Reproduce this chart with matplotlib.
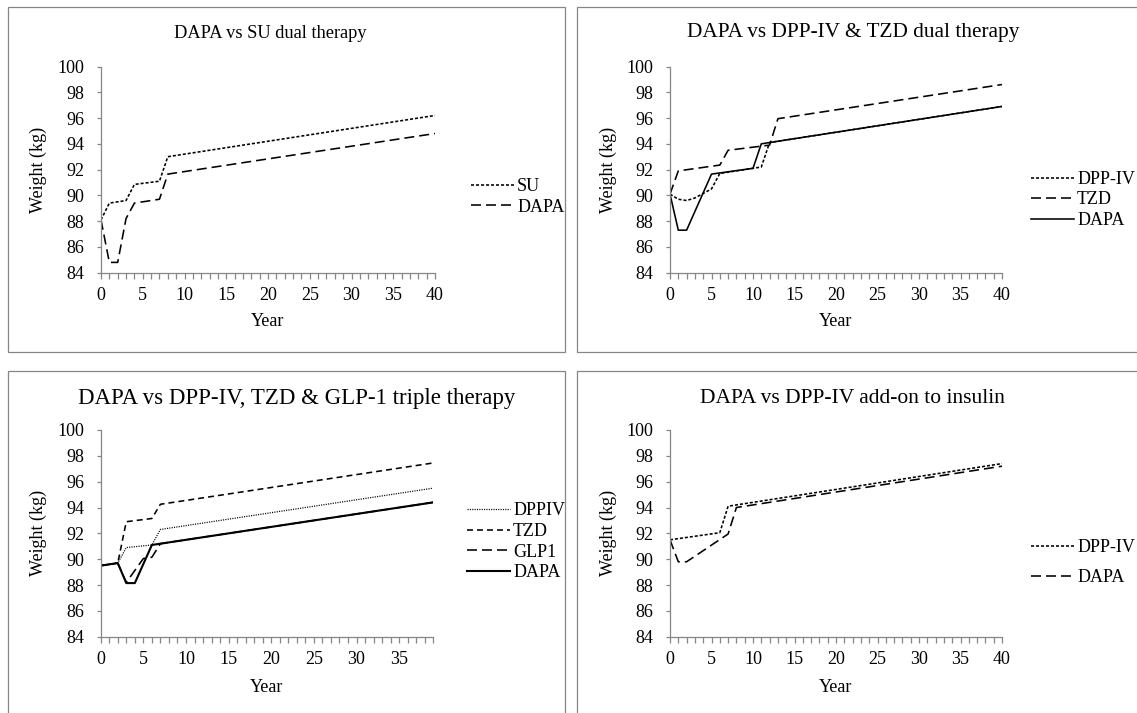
import matplotlib
matplotlib.use("Agg")
import matplotlib.pyplot as plt
from matplotlib.patches import Rectangle
from matplotlib.transforms import Bbox, TransformedBbox

plt.rcParams['font.family'] = ['Liberation Serif', 'DejaVu Serif']
plt.rcParams['lines.scale_dashes'] = False

W, H = 1137, 713

# ---------------- data ----------------
# Panel 1: DAPA vs SU dual therapy
p1_su_x = [0, 1, 3, 4, 7, 8, 40]
p1_su_y = [88.1, 89.4, 89.6, 90.85, 91.1, 93.0, 96.2]
p1_dapa_x = [0, 1, 2, 3, 4, 7, 8, 40]
p1_dapa_y = [88.1, 84.8, 84.8, 88.2, 89.4, 89.7, 91.65, 94.8]

# Panel 2: DAPA vs DPP-IV & TZD dual therapy
p2_dpp_x = [0, 1, 2, 3, 4, 5, 6, 10, 11, 12, 40]
p2_dpp_y = [90.1, 89.7, 89.6, 89.8, 90.15, 90.5, 91.7, 92.1, 92.2, 94.1, 96.9]
p2_tzd_x = [0, 1, 6, 7, 12, 13, 40]
p2_tzd_y = [90.1, 91.9, 92.35, 93.5, 93.9, 95.95, 98.6]
p2_dapa_x = [0, 1, 2, 5, 10, 11, 40]
p2_dapa_y = [90.1, 87.3, 87.3, 91.65, 92.1, 94.0, 96.9]

# Panel 3: DAPA vs DPP-IV, TZD & GLP-1 triple therapy
p3_dppiv_x = [0, 2, 3, 6, 7, 39]
p3_dppiv_y = [89.5, 89.7, 90.9, 91.1, 92.3, 95.5]
p3_tzd_x = [0, 2, 3, 6, 7, 39]
p3_tzd_y = [89.5, 89.7, 92.9, 93.15, 94.25, 97.45]
p3_glp1_x = [0, 2, 3, 5, 6, 7, 39]
p3_glp1_y = [89.5, 89.7, 88.2, 90.05, 90.15, 91.2, 94.4]
p3_dapa_x = [0, 2, 3, 4, 6, 39]
p3_dapa_y = [89.5, 89.7, 88.15, 88.15, 91.1, 94.4]

# Panel 4: DAPA vs DPP-IV add-on to insulin
p4_dpp_x = [0, 6, 7, 40]
p4_dpp_y = [91.5, 92.05, 94.1, 97.4]
p4_dapa_x = [0, 1, 2, 7, 8, 40]
p4_dapa_y = [91.5, 89.8, 89.8, 91.95, 94.0, 97.2]

titles = ["DAPA vs SU dual therapy",
          "DAPA vs DPP-IV & TZD dual therapy",
          "DAPA vs DPP-IV, TZD & GLP-1 triple therapy",
          "DAPA vs DPP-IV add-on to insulin"]
y_ticks = [84, 86, 88, 90, 92, 94, 96, 98, 100]

# ---------------- styles ----------------
SHORTDOT = (0, (2.2, 1.4))
LONGDASH = (0, (7.2, 3.6))
MEDDASH = (0, (4.3, 2.9))
FINEDOT = (0, (0.8, 0.9))
GRAY = '#868686'
FS = 13

fig = plt.figure(figsize=(W / 100, H / 100), dpi=100)


def px_rect(l, t, r, b):
    return [l / W, 1 - b / H, (r - l) / W, (b - t) / H]


def panel_box(l, t, r, b):
    rect = Rectangle((l / W, 1 - b / H), (r - l) / W, (b - t) / H,
                     transform=fig.transFigure, fill=False,
                     edgecolor=GRAY, lw=0.9, zorder=0)
    fig.add_artist(rect)
    return TransformedBbox(Bbox([[l / W, 1 - b / H], [r / W, 1 - t / H]]),
                           fig.transFigure)


def setup_ax(rect, xmax):
    ax = fig.add_axes(px_rect(*rect))
    ax.set_xlim(0, xmax)
    ax.set_ylim(84, 100)
    for s in ['top', 'right']:
        ax.spines[s].set_visible(False)
    for s in ['left', 'bottom']:
        ax.spines[s].set_color(GRAY)
        ax.spines[s].set_linewidth(0.9)
    ax.set_yticks(y_ticks)
    ax.set_yticklabels([str(v) for v in y_ticks])
    xt = list(range(0, xmax + 1))
    ax.set_xticks(xt)
    ax.set_xticklabels([str(v) if v % 5 == 0 else '' for v in xt])
    ax.tick_params(axis='y', direction='out', length=3, width=0.9,
                   color=GRAY, labelsize=FS, pad=9)
    ax.tick_params(axis='x', direction='out', length=4, width=0.9,
                   color=GRAY, labelsize=FS, pad=6.5)
    ax.patch.set_visible(False)
    return ax


def add_legend(ax, x0, yc, spacing, clipbox):
    leg = ax.legend(loc='center left', bbox_to_anchor=(x0 / W, 1 - yc / H),
                    bbox_transform=fig.transFigure, frameon=False,
                    borderpad=0, borderaxespad=0, handlelength=2.4,
                    handletextpad=0.17, labelspacing=spacing, fontsize=FS)
    for t in leg.get_texts():
        t.set_clip_box(clipbox)
        t.set_clip_on(True)
    return leg


LW = 1.15

# Panel 1
clip1 = panel_box(8, 7, 565, 352)
ax1 = setup_ax((101, 66.5, 435, 272.7), 40)
ax1.plot(p1_su_x, p1_su_y, color='k', lw=LW, linestyle=SHORTDOT, label='SU')
ax1.plot(p1_dapa_x, p1_dapa_y, color='k', lw=LW, linestyle=LONGDASH, label='DAPA')
add_legend(ax1, 470.7, 197, 0.2, clip1)

# Panel 2
clip2 = panel_box(577, 7, 1145, 352)
ax2 = setup_ax((670, 66.5, 1002, 272.7), 40)
ax2.plot(p2_dpp_x, p2_dpp_y, color='k', lw=LW, linestyle=SHORTDOT, label='DPP-IV')
ax2.plot(p2_tzd_x, p2_tzd_y, color='k', lw=LW, linestyle=LONGDASH, label='TZD')
ax2.plot(p2_dapa_x, p2_dapa_y, color='k', lw=LW, linestyle='-', label='DAPA')
add_legend(ax2, 1030.7, 200, 0.2, clip2)

# Panel 3
clip3 = panel_box(8, 371, 565, 720)
ax3 = setup_ax((100.7, 430, 433.3, 636.7), 39)
ax3.plot(p3_dppiv_x, p3_dppiv_y, color='k', lw=0.9, linestyle=FINEDOT, label='DPPIV')
ax3.plot(p3_tzd_x, p3_tzd_y, color='k', lw=LW, linestyle=MEDDASH, label='TZD')
ax3.plot(p3_glp1_x, p3_glp1_y, color='k', lw=LW, linestyle=LONGDASH, label='GLP1')
ax3.plot(p3_dapa_x, p3_dapa_y, color='k', lw=1.5, linestyle='-', label='DAPA')
add_legend(ax3, 466.7, 541.7, 0.2, clip3)

# Panel 4
clip4 = panel_box(577, 371, 1145, 720)
ax4 = setup_ax((670, 430, 1002, 636.7), 40)
ax4.plot(p4_dpp_x, p4_dpp_y, color='k', lw=LW, linestyle=SHORTDOT, label='DPP-IV')
ax4.plot(p4_dapa_x, p4_dapa_y, color='k', lw=LW, linestyle=LONGDASH, label='DAPA')
add_legend(ax4, 1030.7, 563, 0.72, clip4)

# Titles and axis labels
title_pos = [(270, 33), (853, 33), (297, 398), (852, 398)]
title_size = [13.2, 15.3, 16.5, 15.5]
for (tx, ty), tt, ts in zip(title_pos, titles, title_size):
    fig.text(tx / W, 1 - ty / H, tt, ha='center', va='center', fontsize=ts)

for (lx, ly) in [(38, 170), (608, 170), (38, 533), (608, 533)]:
    fig.text(lx / W, 1 - ly / H, 'Weight (kg)', rotation=90,
             ha='center', va='center', fontsize=FS)
for (lx, ly) in [(268, 321), (836, 321), (267, 687), (836, 687)]:
    fig.text(lx / W, 1 - ly / H, 'Year', ha='center', va='center', fontsize=FS)

fig.savefig('out.png', dpi=100)
